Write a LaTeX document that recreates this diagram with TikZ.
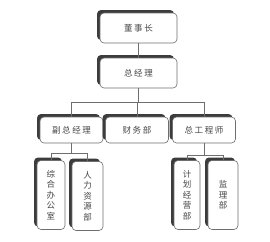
\documentclass[tikz,border=0pt]{standalone}
\usepackage{fontspec}
\usepackage{xcolor}
\usepackage{tikz}
\usetikzlibrary{shadows, positioning, calc}
\newfontfamily\cjk[LetterSpace=18]{Noto Sans CJK SC}
\newfontfamily\cjkv{Noto Sans CJK SC}
\definecolor{TextoGris} {RGB}{70, 70, 70}
\definecolor{LineaGris} {RGB}{110,110,110}
\definecolor{SombraGris}{RGB}{60, 60, 60}

\begin{document}
\begin{tikzpicture}[
      x=1pt,y=-1pt,
      caja/.style ={draw=LineaGris,fill=white,text=TextoGris,
                    rounded corners=4pt,line width=0.6pt,
                    drop shadow={shadow xshift=-3pt,shadow yshift=3pt,
                                 fill=SombraGris,opacity=1},
                    font=\cjk\fontsize{8.5}{10}\selectfont,align=center,
                    inner sep=1pt},
      cajah/.style={caja,minimum width=63pt,minimum height=26pt},
      cajav/.style={caja,minimum height=69pt,text width=12pt,
                    font=\cjkv\fontsize{8.5}{10.5}\selectfont},
      fl/.style   ={LineaGris,line width=0.6pt}]
      \useasboundingbox (0,0) rectangle (270,241);
      \node[caja,minimum width=77pt,minimum height=30pt] (dsz) at (138.5,28){董事长};
      \node[caja,minimum width=77pt,minimum height=30pt] (zjl) at (138.5,73){总经理};
      \node[cajah] (fz)  at (71.5,130){副总经理};
      \node[cajah] (cw)  at (137,130){财务部};
      \node[cajah] (zg)  at (204,130){总工程师};
      \node[cajav,minimum width=28pt] (zh) at (51,195){综\\合\\办\\公\\室};
      \node[cajav,minimum width=31pt] (rl) at (87.5,196){人\\力\\资\\源\\部};
      \node[cajav,minimum width=26pt] (jh) at (187,195){计\\划\\经\\营\\部};
      \node[cajav,minimum width=30pt] (jl) at (223,195){监\\理\\部};
      % lineas
      \draw[fl] (dsz)--(zjl);
      \coordinate (bus1) at (138.5,102);
      \foreach \b in {fz,cw,zg}
        \draw[fl] (zjl.south)--(bus1)-|(\b.north);
      \path (fz.south) ++(0,10) coordinate (bus2);
      \path (zg.south) ++(0,12) coordinate (bus3);
      \foreach \b in {zh,rl}
        \draw[fl] (fz.south)--(bus2)-|(\b.north);
      \foreach \b in {jh,jl}
        \draw[fl] (zg.south)--(bus3)-|(\b.north);
    \end{tikzpicture}
\end{document}
